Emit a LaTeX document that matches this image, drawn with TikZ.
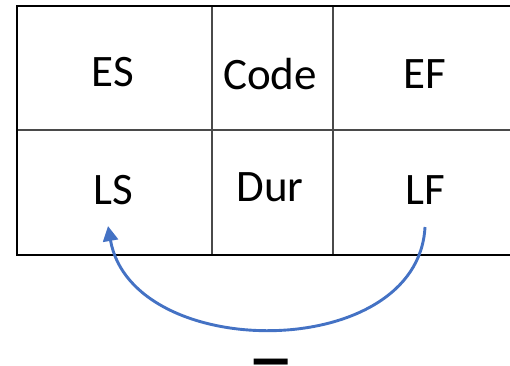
\documentclass[tikz,border=0pt]{standalone}
\usepackage{fontspec}
\setmainfont{Carlito}
\usetikzlibrary{arrows.meta}
\definecolor{arrowblue}{HTML}{4472C4}
\definecolor{rulegray}{HTML}{4A4A4A}
\tikzset{
  cell/.style={font=\fontsize{45}{52}\selectfont, inner sep=0pt, anchor=center},
  outer/.style={line width=2.2pt, black},
  inner/.style={line width=1.3pt, rulegray},
  link/.style={line width=2.9pt, arrowblue, -{Triangle[length=15pt,width=15pt]}},
}
\begin{document}
\begin{tikzpicture}[x=1pt,y=-1pt]
  \useasboundingbox (0,0) rectangle (510,365);
  % grid of the activity box
  \draw[inner] (17,130) -- (510,130);
  \draw[inner] (212,6) -- (212,255);
  \draw[inner] (333,6) -- (333,255);
  \draw[outer] (510,6) -- (17,6) -- (17,255);
  \draw[line width=2.8pt] (16,255) -- (510,255);
  % cell labels
  \node[cell] (es)   at (113,72)  {ES};
  \node[cell] (code) at (270,74)  {Code};
  \node[cell] (ef)   at (425,74)  {EF};
  \node[cell] (ls)   at (113,190) {LS};
  \node[cell] (dur)  at (270,187) {Dur};
  \node[cell] (lf)   at (425,190) {LF};
  % backward pass link from LF to LS
  \coordinate (lfout) at (425,227);
  \coordinate (lsin) at (108,226);
  \draw[link] (lfout) .. controls (418,363) and (132,363) .. (lsin);
  % operation sign below the arc
  \node[font=\fontsize{95}{95}\selectfont, inner sep=0pt] (op) at (271,374) {–};
\end{tikzpicture}
\end{document}
